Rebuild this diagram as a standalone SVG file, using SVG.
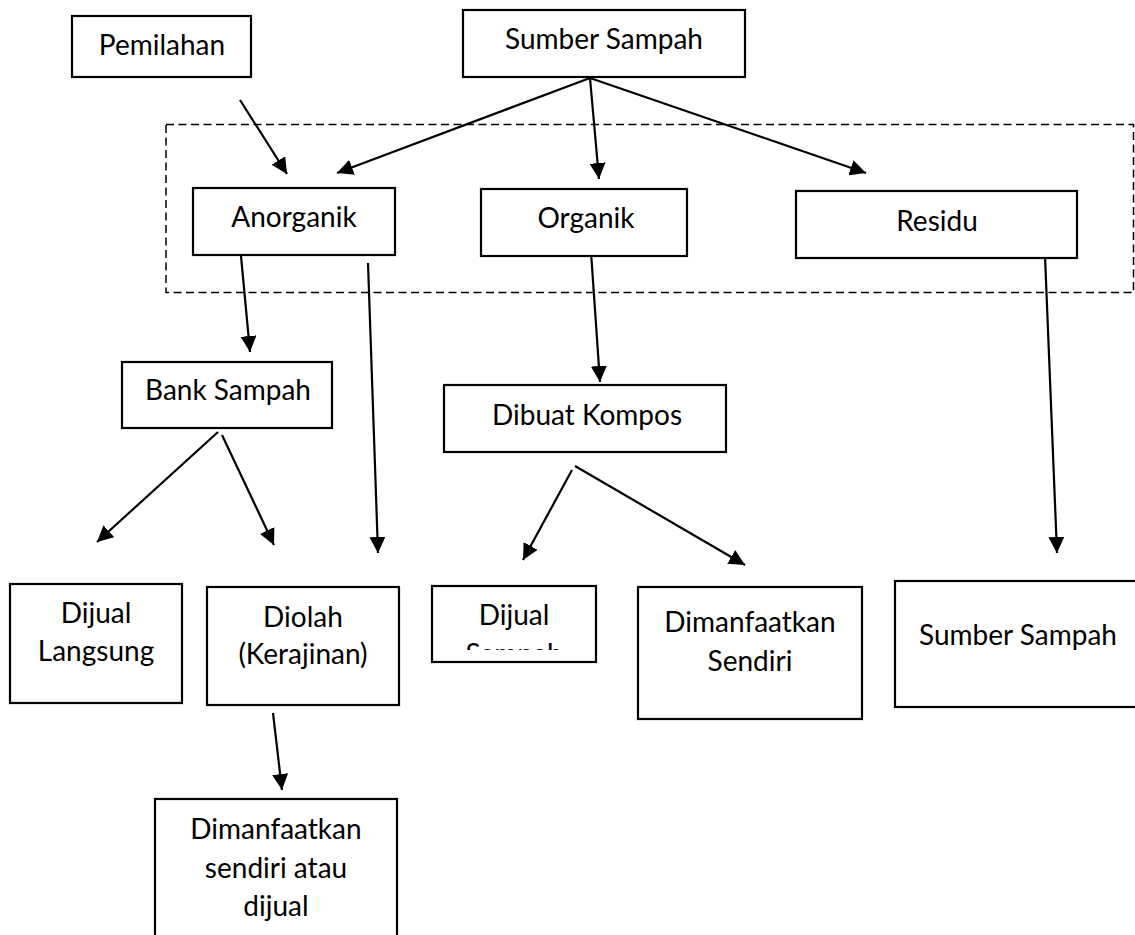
<svg xmlns="http://www.w3.org/2000/svg" width="1135" height="935" viewBox="0 0 1135 935">
<style>
.box{fill:#fff;stroke:#000;stroke-width:2.2}
.t{font-family:Lato,"Liberation Sans",sans-serif;font-size:28px;fill:#000;text-anchor:middle}
.c line{stroke:#000;stroke-width:2.2}
.dash{fill:none;stroke:#000;stroke-width:1.5;stroke-dasharray:8 4.5}
</style>
<defs>
<marker id="ah" markerUnits="userSpaceOnUse" markerWidth="16" markerHeight="16" viewBox="0 0 16 16" refX="16" refY="8" orient="auto">
<path d="M0,0 L16,8 L0,16 z" fill="#000"/>
</marker>
<clipPath id="clipDijual"><rect x="432" y="586" width="164" height="64"/></clipPath>
</defs>
<rect class="dash" x="166" y="124.5" width="967.5" height="168"/>
<g id="connectors" class="c">
<line x1="240" y1="100" x2="287" y2="174" marker-end="url(#ah)"/>
<line x1="590" y1="78" x2="337" y2="173" marker-end="url(#ah)"/>
<line x1="590" y1="78" x2="599" y2="179" marker-end="url(#ah)"/>
<line x1="590" y1="78" x2="866" y2="173" marker-end="url(#ah)"/>
<line x1="241" y1="256" x2="250" y2="352" marker-end="url(#ah)"/>
<line x1="368" y1="263" x2="378" y2="553" marker-end="url(#ah)"/>
<line x1="591" y1="252" x2="600" y2="382" marker-end="url(#ah)"/>
<line x1="1045" y1="256" x2="1057" y2="553" marker-end="url(#ah)"/>
<line x1="218" y1="432" x2="97" y2="542" marker-end="url(#ah)"/>
<line x1="222" y1="435" x2="274" y2="545" marker-end="url(#ah)"/>
<line x1="572" y1="470" x2="523" y2="560" marker-end="url(#ah)"/>
<line x1="575" y1="466" x2="745" y2="565" marker-end="url(#ah)"/>
<line x1="273" y1="713" x2="282" y2="790" marker-end="url(#ah)"/>
</g>
<g id="pemilahan"><rect class="box" x="72" y="16" width="179" height="61"/><text class="t" x="162" y="55">Pemilahan</text></g>
<g id="sumber-sampah"><rect class="box" x="463" y="10" width="282" height="67"/><text class="t" x="604" y="49">Sumber Sampah</text></g>
<g id="anorganik"><rect class="box" x="193" y="188" width="202" height="67"/><text class="t" x="294" y="227">Anorganik</text></g>
<g id="organik"><rect class="box" x="481" y="189" width="206" height="67"/><text class="t" x="586" y="228">Organik</text></g>
<g id="residu"><rect class="box" x="796" y="191" width="281" height="67"/><text class="t" x="937" y="231">Residu</text></g>
<g id="bank-sampah"><rect class="box" x="122" y="362" width="210" height="66"/><text class="t" x="228" y="400">Bank Sampah</text></g>
<g id="dibuat-kompos"><rect class="box" x="444" y="385" width="282" height="67"/><text class="t" x="587" y="425">Dibuat Kompos</text></g>
<g id="dijual-langsung"><rect class="box" x="10" y="584" width="172" height="119"/><text class="t" x="96" y="623">Dijual</text><text class="t" x="96" y="661">Langsung</text></g>
<g id="diolah"><rect class="box" x="207" y="587" width="192" height="118"/><text class="t" x="303" y="627">Diolah</text><text class="t" x="303" y="664">(Kerajinan)</text></g>
<g id="dijual-sampah"><rect class="box" x="432" y="586" width="164" height="76"/><g clip-path="url(#clipDijual)"><text class="t" x="514" y="625">Dijual</text><text class="t" x="514" y="664">Sampah</text></g></g>
<g id="dimanfaatkan-sendiri"><rect class="box" x="638" y="587" width="224" height="132"/><text class="t" x="750" y="632">Dimanfaatkan</text><text class="t" x="750" y="671">Sendiri</text></g>
<g id="sumber-sampah-2"><rect class="box" x="895" y="581" width="260" height="126"/><text class="t" x="919" y="645" style="text-anchor:start">Sumber Sampah</text></g>
<g id="dimanfaatkan-dijual"><rect class="box" x="155" y="799" width="242" height="160"/><text class="t" x="276" y="839">Dimanfaatkan</text><text class="t" x="276" y="878">sendiri atau</text><text class="t" x="276" y="916">dijual</text></g>
</svg>
